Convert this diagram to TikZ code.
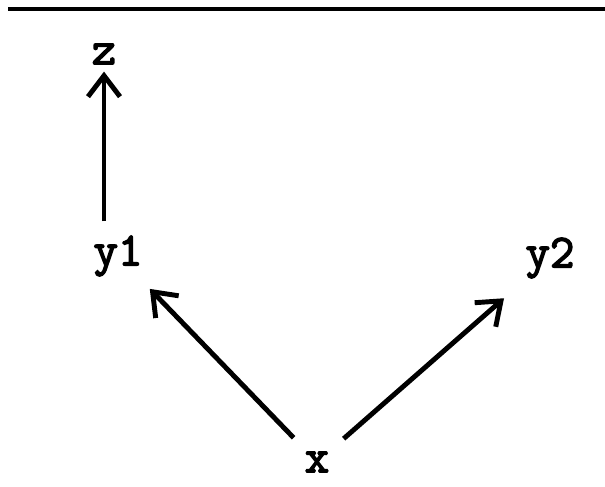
\documentclass[tikz,border=0pt]{standalone}
\usepackage{fontspec}
\newfontfamily\varfont{Latin Modern Mono}[FakeBold=3]
\usetikzlibrary{positioning, arrows.meta}

\begin{document}
\begin{tikzpicture}[font=\varfont\fontsize{27}{30}\selectfont,
    var/.style={inner sep=2pt},
    arr/.style={line width=2.8pt, -{Straight Barb[length=0.42cm, width=0.64cm]}}]
    \useasboundingbox (0,0) rectangle (12.1,9.74);
    % rule on top
    \draw[line width=1.8pt] (0.16,9.56) -- (12.1,9.56);
    \node[var] (z) at (2.08,8.66) {z};
    \node[var] (y1) at (2.36,4.62) {y1};
    \node[var] (y2) at (11.0,4.58) {y2};
    \node[var] (x) at (6.34,0.50) {x};
    \draw[arr, shorten <=6pt, shorten >=2pt] (z.south |- y1.north) -- (z.south);
    \draw[arr, shorten <=8pt, shorten >=7pt] (x) -- (y1);
    \draw[arr, shorten <=8pt, shorten >=14pt] (x) -- (y2);
\end{tikzpicture}
\end{document}
